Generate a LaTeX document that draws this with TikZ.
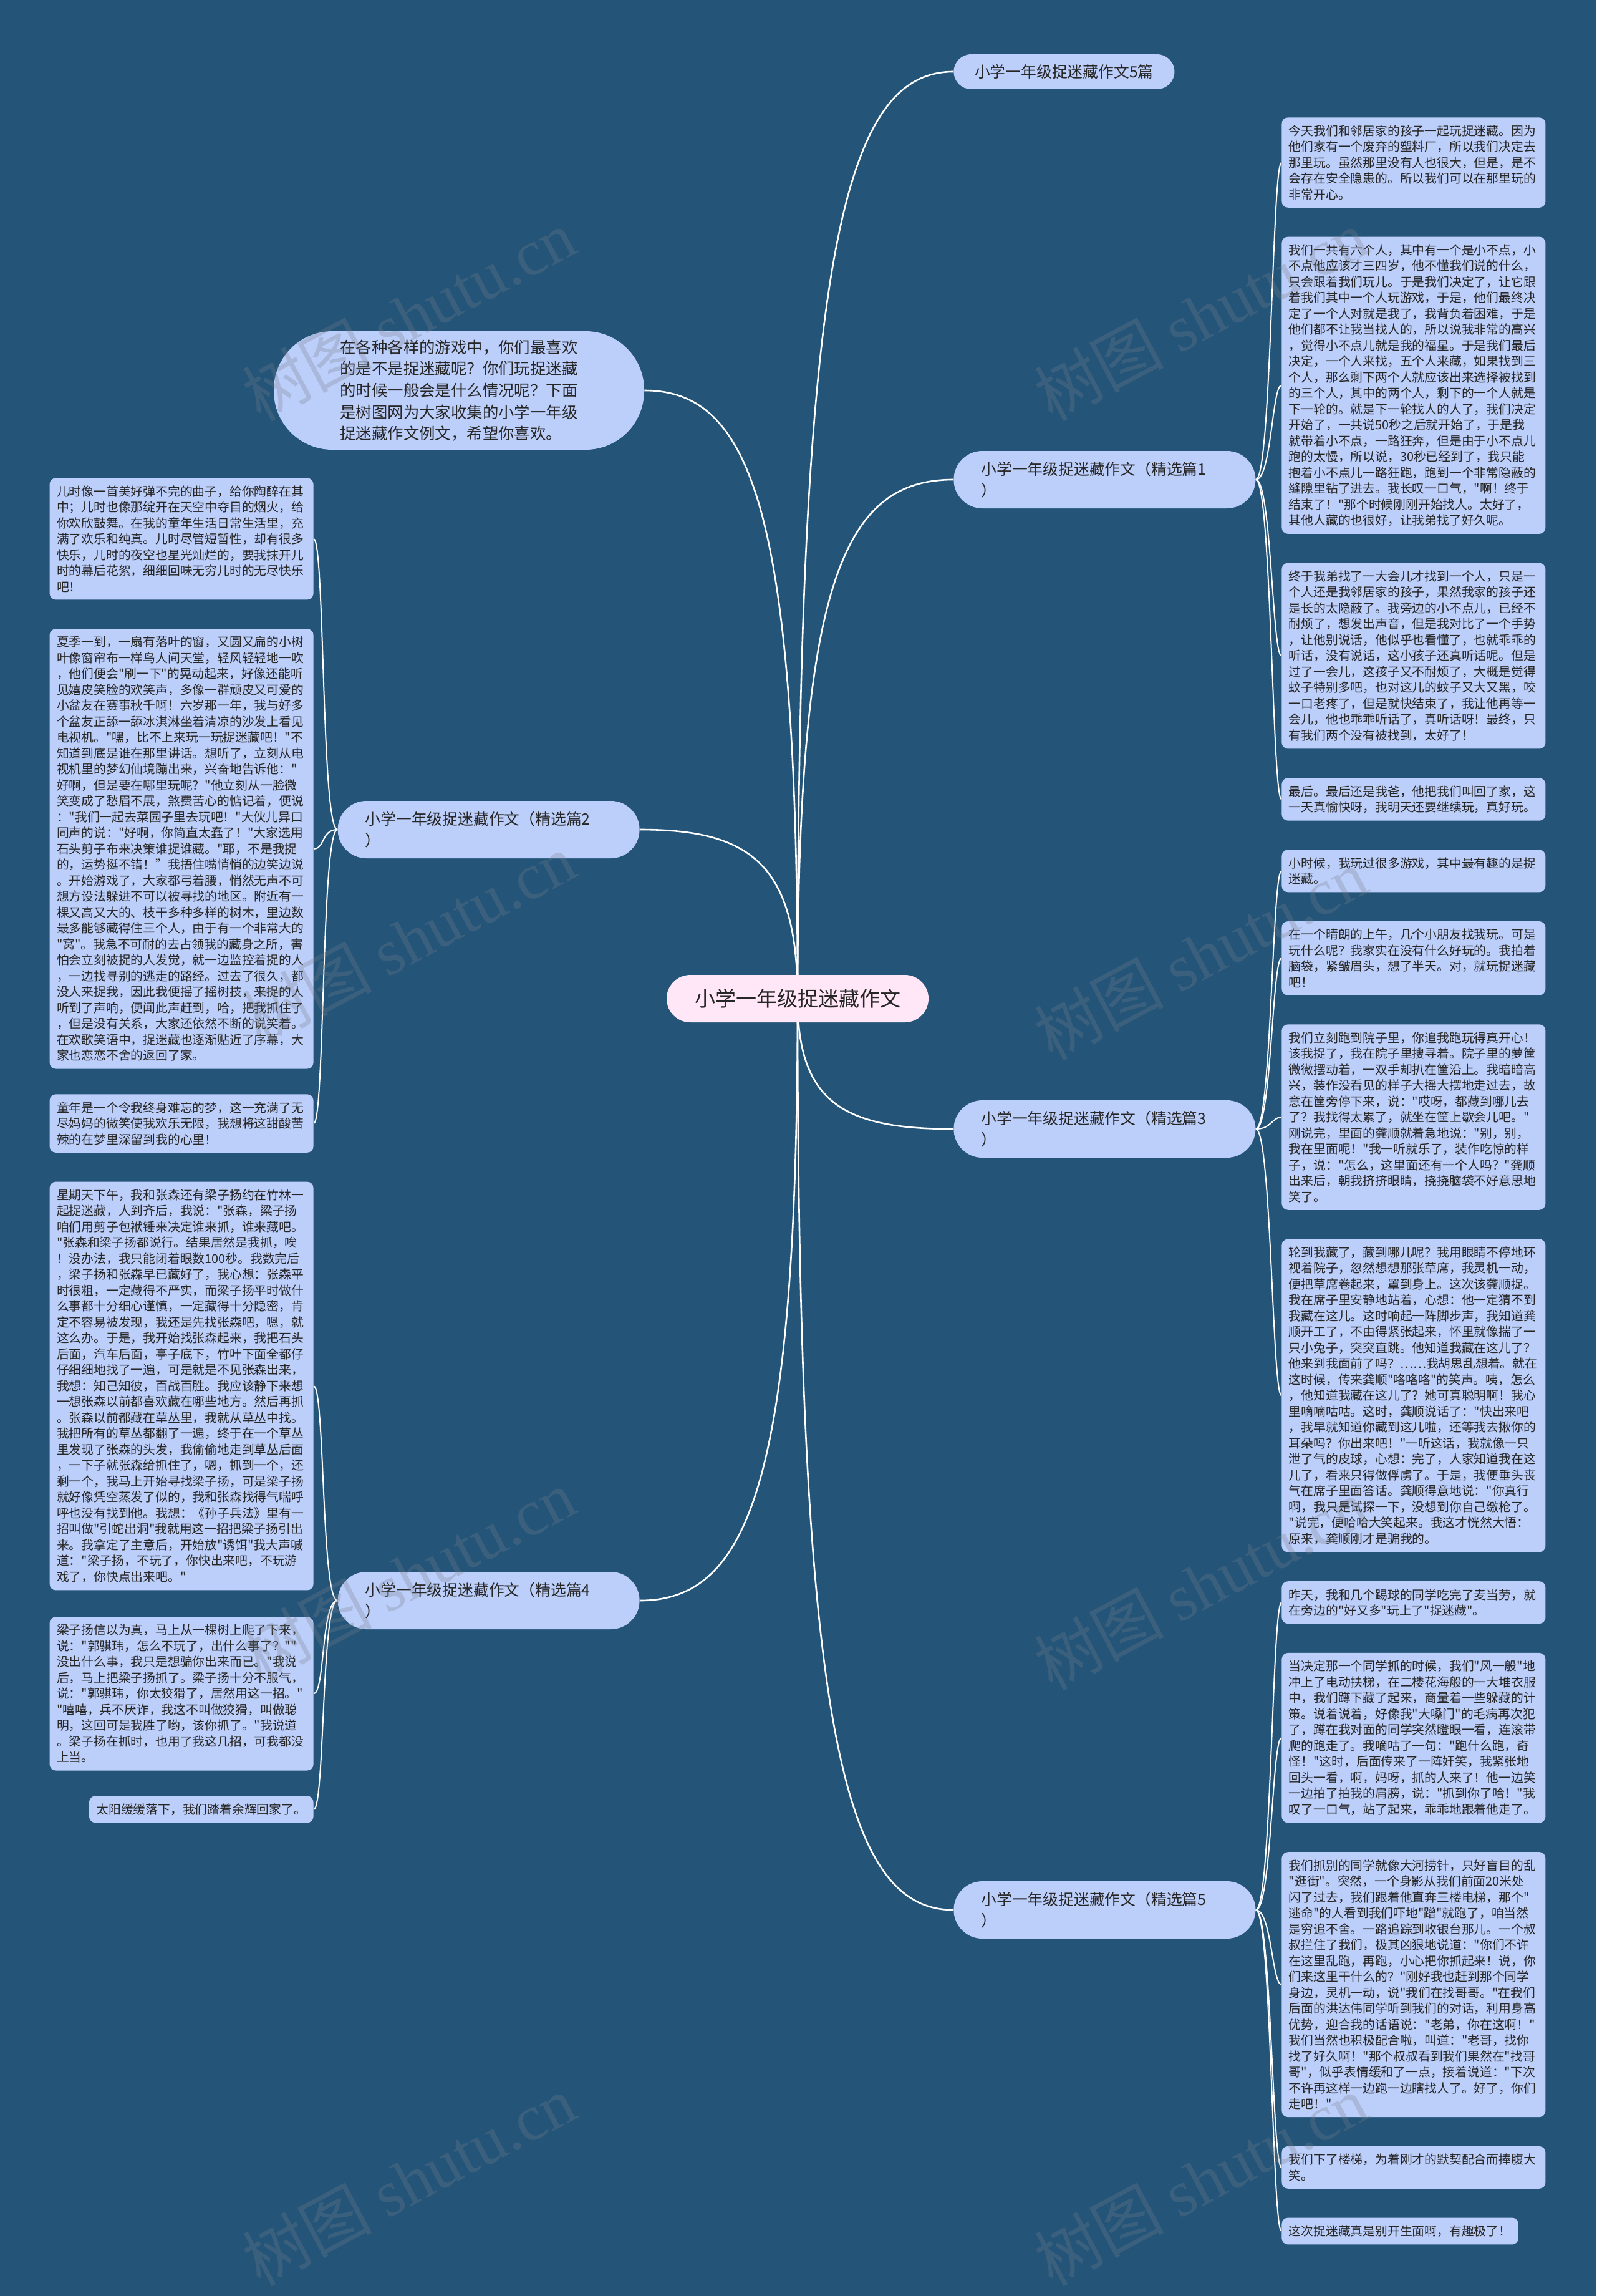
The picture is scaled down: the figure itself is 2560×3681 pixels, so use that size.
\documentclass[tikz,border=0pt]{standalone}
\usepackage{fontspec}
\newfontfamily\cjk{Noto Sans CJK SC}
\newfontfamily\wmlatin{Liberation Serif}
\usetikzlibrary{positioning,backgrounds}
\definecolor{bgclr}{RGB}{36,85,121}
\definecolor{leaffill}{RGB}{188,206,250}
\definecolor{rootfill}{RGB}{255,231,247}
\definecolor{txtclr}{RGB}{38,38,38}
\definecolor{wmclr}{RGB}{120,128,136}
\tikzset{
  root/.style={rectangle,rounded corners=19pt,fill=rootfill,
    minimum width=210pt,minimum height=38pt,inner sep=0pt,
    font=\cjk\fontsize{16.5pt}{20pt}\selectfont,text=txtclr},
  intro/.style={rectangle,rounded corners=47pt,fill=leaffill,
    minimum width=297pt,minimum height=95pt,inner sep=0pt,align=left,
    font=\cjk\fontsize{12.7pt}{17.3pt}\selectfont,text=txtclr},
  topic/.style={rectangle,rounded corners=14pt,fill=leaffill,
    minimum width=177pt,minimum height=28pt,inner sep=0pt,
    font=\cjk\fontsize{12.4pt}{17pt}\selectfont,text=txtclr},
  branch/.style={rectangle,rounded corners=23pt,fill=leaffill,
    text width=198pt,inner xsep=22pt,minimum height=46pt,align=left,
    font=\cjk\fontsize{12.4pt}{17pt}\selectfont,text=txtclr},
  leaf/.style={rectangle,rounded corners=5pt,fill=leaffill,
    text width=200pt,inner xsep=5.75pt,inner ysep=6pt,align=left,
    font=\cjk\fontsize{9.9pt}{12.75pt}\selectfont,text=txtclr},
  leafshort/.style={leaf,text width=,align=left},
  limb/.style={draw=white,line width=1.3pt},
  twig/.style={draw=white,line width=1pt},
  wm/.style={text=wmclr,opacity=0.28,rotate=28,
    font=\cjk\fontsize{52pt}{52pt}\selectfont},
}
\begin{document}
\begin{tikzpicture}[x=0.5pt,y=-0.5pt]
  \useasboundingbox (0,0) rectangle (2560,3681);

  % centre and first level
  \node[root] (root) at (1279,1601) {小学一年级捉迷藏作文};
  \node[intro] (intro) at (736,626) {在各种各样的游戏中，你们最喜欢\\
的是不是捉迷藏呢？你们玩捉迷藏\\
的时候一般会是什么情况呢？下面\\
是树图网为大家收集的小学一年级\\
捉迷藏作文例文，希望你喜欢。};
  \node[topic,anchor=west]  (b0) at (1529,115)  {小学一年级捉迷藏作文5篇};
  \node[branch,anchor=west] (b1) at (1529,769)  {小学一年级捉迷藏作文（精选篇1\\）};
  \node[branch,anchor=west] (b3) at (1529,1810) {小学一年级捉迷藏作文（精选篇3\\）};
  \node[branch,anchor=west] (b5) at (1529,3062) {小学一年级捉迷藏作文（精选篇5\\）};
  \node[branch,anchor=east] (b2) at (1026,1330) {小学一年级捉迷藏作文（精选篇2\\）};
  \node[branch,anchor=east] (b4) at (1026,2566) {小学一年级捉迷藏作文（精选篇4\\）};

  % right column
  \node[leaf,anchor=north west] (r1) at (2055,188) {今天我们和邻居家的孩子一起玩捉迷藏。因为\\
他们家有一个废弃的塑料厂，所以我们决定去\\
那里玩。虽然那里没有人也很大，但是，是不\\
会存在安全隐患的。所以我们可以在那里玩的\\
非常开心。};
  \node[leaf,below=23pt of r1.south west,anchor=north west] (r2) {我们一共有六个人，其中有一个是小不点，小\\
不点他应该才三四岁，他不懂我们说的什么，\\
只会跟着我们玩儿。于是我们决定了，让它跟\\
着我们其中一个人玩游戏，于是，他们最终决\\
定了一个人对就是我了，我背负着困难，于是\\
他们都不让我当找人的，所以说我非常的高兴\\
，觉得小不点儿就是我的福星。于是我们最后\\
决定，一个人来找，五个人来藏，如果找到三\\
个人，那么剩下两个人就应该出来选择被找到\\
的三个人，其中的两个人，剩下的一个人就是\\
下一轮的。就是下一轮找人的人了，我们决定\\
开始了，一共说50秒之后就开始了，于是我\\
就带着小不点，一路狂奔，但是由于小不点儿\\
跑的太慢，所以说，30秒已经到了，我只能\\
抱着小不点儿一路狂跑，跑到一个非常隐蔽的\\
缝隙里钻了进去。我长叹一口气，"啊！终于\\
结束了！"那个时候刚刚开始找人。太好了，\\
其他人藏的也很好，让我弟找了好久呢。};
  \node[leaf,below=23pt of r2.south west,anchor=north west] (r3) {终于我弟找了一大会儿才找到一个人，只是一\\
个人还是我邻居家的孩子，果然我家的孩子还\\
是长的太隐蔽了。我旁边的小不点儿，已经不\\
耐烦了，想发出声音，但是我对比了一个手势\\
，让他别说话，他似乎也看懂了，也就乖乖的\\
听话，没有说话，这小孩子还真听话呢。但是\\
过了一会儿，这孩子又不耐烦了，大概是觉得\\
蚊子特别多吧，也对这儿的蚊子又大又黑，咬\\
一口老疼了，但是就快结束了，我让他再等一\\
会儿，他也乖乖听话了，真听话呀！最终，只\\
有我们两个没有被找到，太好了！};
  \node[leaf,below=23pt of r3.south west,anchor=north west] (r4) {最后。最后还是我爸，他把我们叫回了家，这\\
一天真愉快呀，我明天还要继续玩，真好玩。};
  \node[leaf,below=23pt of r4.south west,anchor=north west] (r5) {小时候，我玩过很多游戏，其中最有趣的是捉\\
迷藏。};
  \node[leaf,below=23pt of r5.south west,anchor=north west] (r6) {在一个晴朗的上午，几个小朋友找我玩。可是\\
玩什么呢？我家实在没有什么好玩的。我拍着\\
脑袋，紧皱眉头，想了半天。对，就玩捉迷藏\\
吧！};
  \node[leaf,below=23pt of r6.south west,anchor=north west] (r7) {我们立刻跑到院子里，你追我跑玩得真开心！\\
该我捉了，我在院子里搜寻着。院子里的萝筐\\
微微摆动着，一双手却扒在筐沿上。我暗暗高\\
兴，装作没看见的样子大摇大摆地走过去，故\\
意在筐旁停下来，说："哎呀，都藏到哪儿去\\
了？我找得太累了，就坐在筐上歇会儿吧。"\\
刚说完，里面的龚顺就着急地说："别，别，\\
我在里面呢！"我一听就乐了，装作吃惊的样\\
子，说："怎么，这里面还有一个人吗？"龚顺\\
出来后，朝我挤挤眼睛，挠挠脑袋不好意思地\\
笑了。};
  \node[leaf,below=23pt of r7.south west,anchor=north west] (r8) {轮到我藏了，藏到哪儿呢？我用眼睛不停地环\\
视着院子，忽然想想那张草席，我灵机一动，\\
便把草席卷起来，罩到身上。这次该龚顺捉。\\
我在席子里安静地站着，心想：他一定猜不到\\
我藏在这儿。这时响起一阵脚步声，我知道龚\\
顺开工了，不由得紧张起来，怀里就像揣了一\\
只小兔子，突突直跳。他知道我藏在这儿了？\\
他来到我面前了吗？……我胡思乱想着。就在\\
这时候，传来龚顺"咯咯咯"的笑声。咦，怎么\\
，他知道我藏在这儿了？她可真聪明啊！我心\\
里嘀嘀咕咕。这时，龚顺说话了："快出来吧\\
，我早就知道你藏到这儿啦，还等我去揪你的\\
耳朵吗？你出来吧！"一听这话，我就像一只\\
泄了气的皮球，心想：完了，人家知道我在这\\
儿了，看来只得做俘虏了。于是，我便垂头丧\\
气在席子里面答话。龚顺得意地说："你真行\\
啊，我只是试探一下，没想到你自己缴枪了。\\
"说完，便哈哈大笑起来。我这才恍然大悟：\\
原来，龚顺刚才是骗我的。};
  \node[leaf,below=23pt of r8.south west,anchor=north west] (r9) {昨天，我和几个踢球的同学吃完了麦当劳，就\\
在旁边的"好又多"玩上了"捉迷藏"。};
  \node[leaf,below=23pt of r9.south west,anchor=north west] (r10) {当决定那一个同学抓的时候，我们"风一般"地\\
冲上了电动扶梯，在二楼花海般的一大堆衣服\\
中，我们蹲下藏了起来，商量着一些躲藏的计\\
策。说着说着，好像我"大嗓门"的毛病再次犯\\
了，蹲在我对面的同学突然瞪眼一看，连滚带\\
爬的跑走了。我嘀咕了一句："跑什么跑，奇\\
怪！"这时，后面传来了一阵奸笑，我紧张地\\
回头一看，啊，妈呀，抓的人来了！他一边笑\\
一边拍了拍我的肩膀，说："抓到你了哈！"我\\
叹了一口气，站了起来，乖乖地跟着他走了。};
  \node[leaf,below=23pt of r10.south west,anchor=north west] (r11) {我们抓别的同学就像大河捞针，只好盲目的乱\\
"逛街"。突然，一个身影从我们前面20米处\\
闪了过去，我们跟着他直奔三楼电梯，那个"\\
逃命"的人看到我们吓地"蹭"就跑了，咱当然\\
是穷追不舍。一路追踪到收银台那儿。一个叔\\
叔拦住了我们，极其凶狠地说道："你们不许\\
在这里乱跑，再跑，小心把你抓起来！说，你\\
们来这里干什么的？"刚好我也赶到那个同学\\
身边，灵机一动，说"我们在找哥哥。"在我们\\
后面的洪达伟同学听到我们的对话，利用身高\\
优势，迎合我的话语说："老弟，你在这啊！"\\
我们当然也积极配合啦，叫道："老哥，找你\\
找了好久啊！"那个叔叔看到我们果然在"找哥\\
哥"，似乎表情缓和了一点，接着说道："下次\\
不许再这样一边跑一边瞎找人了。好了，你们\\
走吧！"};
  \node[leaf,below=23pt of r11.south west,anchor=north west] (r12) {我们下了楼梯，为着刚才的默契配合而捧腹大\\
笑。};
  \node[leafshort,below=23pt of r12.south west,anchor=north west] (r13) {这次捉迷藏真是别开生面啊，有趣极了！};

  % left column
  \node[leaf,anchor=north east] (l1) at (503,766) {儿时像一首美好弹不完的曲子，给你陶醉在其\\
中；儿时也像那绽开在天空中夺目的烟火，给\\
你欢欣鼓舞。在我的童年生活日常生活里，充\\
满了欢乐和纯真。儿时尽管短暂性，却有很多\\
快乐，儿时的夜空也星光灿烂的，要我抹开儿\\
时的幕后花絮，细细回味无穷儿时的无尽快乐\\
吧！};
  \node[leaf,below=23pt of l1.south east,anchor=north east] (l2) {夏季一到，一扇有落叶的窗，又圆又扁的小树\\
叶像窗帘布一样鸟人间天堂，轻风轻轻地一吹\\
，他们便会"刷一下"的晃动起来，好像还能听\\
见嬉皮笑脸的欢笑声，多像一群顽皮又可爱的\\
小盆友在赛事秋千啊！六岁那一年，我与好多\\
个盆友正舔一舔冰淇淋坐着清凉的沙发上看见\\
电视机。"嘿，比不上来玩一玩捉迷藏吧！"不\\
知道到底是谁在那里讲话。想听了，立刻从电\\
视机里的梦幻仙境蹦出来，兴奋地告诉他："\\
好啊，但是要在哪里玩呢？"他立刻从一脸微\\
笑变成了愁眉不展，煞费苦心的惦记着，便说\\
："我们一起去菜园子里去玩吧！"大伙儿异口\\
同声的说："好啊，你简直太蠢了！"大家选用\\
石头剪子布来决策谁捉谁藏。"耶，不是我捉\\
的，运势挺不错！”我捂住嘴悄悄的边笑边说\\
。开始游戏了，大家都弓着腰，悄然无声不可\\
想方设法躲进不可以被寻找的地区。附近有一\\
棵又高又大的、枝干多种多样的树木，里边数\\
最多能够藏得住三个人，由于有一个非常大的\\
"窝"。我急不可耐的去占领我的藏身之所，害\\
怕会立刻被捉的人发觉，就一边监控着捉的人\\
，一边找寻别的逃走的路经。过去了很久，都\\
没人来捉我，因此我便摇了摇树技，来捉的人\\
听到了声响，便闻此声赶到，哈，把我抓住了\\
，但是没有关系，大家还依然不断的说笑着。\\
在欢歌笑语中，捉迷藏也逐渐贴近了序幕，大\\
家也恋恋不舍的返回了家。};
  \node[leaf,below=20pt of l2.south east,anchor=north east] (l3) {童年是一个令我终身难忘的梦，这一充满了无\\
尽妈妈的微笑使我欢乐无限，我想将这甜酸苦\\
辣的在梦里深留到我的心里！};
  \node[leaf,below=23pt of l3.south east,anchor=north east] (l4) {星期天下午，我和张森还有梁子扬约在竹林一\\
起捉迷藏，人到齐后，我说："张森，梁子扬\\
咱们用剪子包袱锤来决定谁来抓，谁来藏吧。\\
"张森和梁子扬都说行。结果居然是我抓，唉\\
！没办法，我只能闭着眼数100秒。我数完后\\
，梁子扬和张森早已藏好了，我心想：张森平\\
时很粗，一定藏得不严实，而梁子扬平时做什\\
么事都十分细心谨慎，一定藏得十分隐密，肯\\
定不容易被发现，我还是先找张森吧，嗯，就\\
这么办。于是，我开始找张森起来，我把石头\\
后面，汽车后面，亭子底下，竹叶下面全都仔\\
仔细细地找了一遍，可是就是不见张森出来，\\
我想：知己知彼，百战百胜。我应该静下来想\\
一想张森以前都喜欢藏在哪些地方。然后再抓\\
。张森以前都藏在草丛里，我就从草丛中找。\\
我把所有的草丛都翻了一遍，终于在一个草丛\\
里发现了张森的头发，我偷偷地走到草丛后面\\
，一下子就张森给抓住了，嗯，抓到一个，还\\
剩一个，我马上开始寻找梁子扬，可是梁子扬\\
就好像凭空蒸发了似的，我和张森找得气喘呼\\
呼也没有找到他。我想：《孙子兵法》里有一\\
招叫做"引蛇出洞"我就用这一招把梁子扬引出\\
来。我拿定了主意后，开始放"诱饵"我大声喊\\
道："梁子扬，不玩了，你快出来吧，不玩游\\
戏了，你快点出来吧。"};
  \node[leaf,below=21pt of l4.south east,anchor=north east] (l5) {梁子扬信以为真，马上从一棵树上爬了下来，\\
说："郭骐玮，怎么不玩了，出什么事了？""\\
没出什么事，我只是想骗你出来而已。"我说\\
后，马上把梁子扬抓了。梁子扬十分不服气，\\
说："郭骐玮，你太狡猾了，居然用这一招。"\\
"嘻嘻，兵不厌诈，我这不叫做狡猾，叫做聪\\
明，这回可是我胜了哟，该你抓了。"我说道\\
。梁子扬在抓时，也用了我这几招，可我都没\\
上当。};
  \node[leafshort,below=20pt of l5.south east,anchor=north east] (l6) {太阳缓缓落下，我们踏着余辉回家了。};

  % watermarks
  \node[wm] (wm1) at (655,505)  {树图 {\wmlatin shutu.cn}};
  \node[wm] (wm2) at (1925,505) {树图 {\wmlatin shutu.cn}};
  \node[wm] (wm3) at (655,1505) {树图 {\wmlatin shutu.cn}};
  \node[wm] (wm4) at (1925,1530) {树图 {\wmlatin shutu.cn}};
  \node[wm] (wm5) at (655,2525) {树图 {\wmlatin shutu.cn}};
  \node[wm] (wm6) at (1925,2540) {树图 {\wmlatin shutu.cn}};
  \node[wm] (wm7) at (655,3495) {树图 {\wmlatin shutu.cn}};
  \node[wm] (wm8) at (1925,3495) {树图 {\wmlatin shutu.cn}};

  \begin{scope}[on background layer]
    \fill[bgclr] (0,0) rectangle (2560,3681);
    % centre to first level
    \draw[limb] (root.center) .. controls +(0,-1190) and +(-176,0) .. (b0.west);
    \draw[limb] (root.center) .. controls +(0,-668) and +(-176,0) .. (b1.west);
    \draw[limb] (root.center) .. controls +(0,167) and +(-176,0) .. (b3.west);
    \draw[limb] (root.center) .. controls +(0,1169) and +(-176,0) .. (b5.west);
    \draw[limb] (root.center) .. controls +(0,-780) and +(172,0) .. (intro.east);
    \draw[limb] (root.center) .. controls +(0,-217) and +(176,0) .. (b2.east);
    \draw[limb] (root.center) .. controls +(0,772) and +(176,0) .. (b4.east);
    % branches to leaves
    \draw[twig] (b1.east) .. controls +(25,0) and +(-15,0) .. (r1.west);
    \draw[twig] (b1.east) .. controls +(25,0) and +(-15,0) .. (r2.west);
    \draw[twig] (b1.east) .. controls +(25,0) and +(-15,0) .. (r3.west);
    \draw[twig] (b1.east) .. controls +(25,0) and +(-15,0) .. (r4.west);
    \draw[twig] (b3.east) .. controls +(25,0) and +(-15,0) .. (r5.west);
    \draw[twig] (b3.east) .. controls +(25,0) and +(-15,0) .. (r6.west);
    \draw[twig] (b3.east) .. controls +(25,0) and +(-15,0) .. (r7.west);
    \draw[twig] (b3.east) .. controls +(25,0) and +(-15,0) .. (r8.west);
    \draw[twig] (b5.east) .. controls +(25,0) and +(-15,0) .. (r9.west);
    \draw[twig] (b5.east) .. controls +(25,0) and +(-15,0) .. (r10.west);
    \draw[twig] (b5.east) .. controls +(25,0) and +(-15,0) .. (r11.west);
    \draw[twig] (b5.east) .. controls +(25,0) and +(-15,0) .. (r12.west);
    \draw[twig] (b5.east) .. controls +(25,0) and +(-15,0) .. (r13.west);
    \draw[twig] (b2.west) .. controls +(-26,0) and +(18,0) .. (l1.east);
    \draw[twig] (b2.west) .. controls +(-26,0) and +(18,0) .. (l2.east);
    \draw[twig] (b2.west) .. controls +(-26,0) and +(18,0) .. (l3.east);
    \draw[twig] (b4.west) .. controls +(-26,0) and +(18,0) .. (l4.east);
    \draw[twig] (b4.west) .. controls +(-26,0) and +(18,0) .. (l5.east);
    \draw[twig] (b4.west) .. controls +(-26,0) and +(18,0) .. (l6.east);
  \end{scope}
\end{tikzpicture}
\end{document}
